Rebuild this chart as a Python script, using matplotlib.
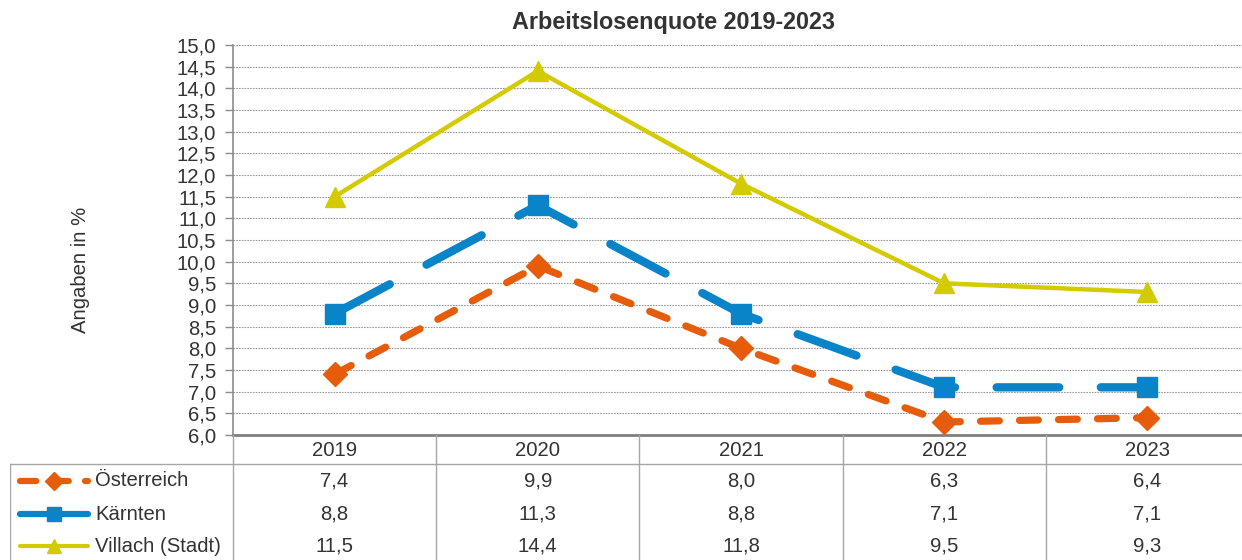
import numpy as np
import matplotlib.pyplot as plt
from matplotlib.lines import Line2D

plt.rcParams['font.family'] = ['Liberation Sans', 'DejaVu Sans']

years = ['2019', '2020', '2021', '2022', '2023']
oesterreich = [7.4, 9.9, 8.0, 6.3, 6.4]
kaernten = [8.8, 11.3, 8.8, 7.1, 7.1]
villach = [11.5, 14.4, 11.8, 9.5, 9.3]
series_names = ['Österreich', 'Kärnten', 'Villach (Stadt)']
y_ticks = np.arange(6.0, 15.01, 0.5)

c_orange = '#E65C0A'
c_blue = '#0A84C8'
c_yellow = '#D4CA00'
c_grid = '#8C8C8C'
c_text = '#333333'
fs = 14.6

W, H = 1242, 560
fig = plt.figure(figsize=(W / 100, H / 100), dpi=100)

# main plot area (pixel coordinates of reference)
px_l, px_r, px_t, px_b = 233, 1249, 45, 435
ax = fig.add_axes([px_l / W, 1 - px_b / H, (px_r - px_l) / W, (px_b - px_t) / H])
x = np.arange(len(years))
ax.set_xlim(-0.5, len(years) - 0.5)
ax.set_ylim(6.0, 15.0)
ax.set_yticks(y_ticks)
ax.set_yticklabels([f'{v:.1f}'.replace('.', ',') for v in y_ticks], fontsize=fs, color=c_text)
ax.set_xticks([])
for v in y_ticks[1:]:
    ax.axhline(v, color='#9A9A9A', lw=0.8, ls=(0, (1.5, 1.0)), zorder=1)
for s in ['top', 'right']:
    ax.spines[s].set_visible(False)
ax.spines['left'].set_color(c_grid)
ax.spines['left'].set_linewidth(1.2)
ax.spines['bottom'].set_color('#7F7F7F')
ax.spines['bottom'].set_linewidth(2.0)
ax.tick_params(axis='y', length=6, width=1, color=c_grid, pad=6)

ax.plot(x, villach, color=c_yellow, lw=3.2, marker='^', ms=14, zorder=3)
ax.plot(x, kaernten, color=c_blue, lw=6, ls=(0, (7.5, 5)), dash_capstyle='round',
        marker='s', ms=14, zorder=4)
ax.plot(x, oesterreich, color=c_orange, lw=5.2, ls=(0, (2.6, 2.8)), dash_capstyle='round',
        marker='D', ms=12.5, zorder=5)

fig.text(673 / W, 1 - 22 / H, 'Arbeitslosenquote 2019-2023', ha='center', va='center',
         fontsize=16.8, fontweight='bold', color=c_text)
fig.text(80 / W, 1 - 270 / H, 'Angaben in %', rotation=90, ha='center', va='center',
         fontsize=fs, color=c_text)

# data table below the plot
tbl_l = 10
unit = (px_r - px_l) / len(years)
x_left = -0.5 - (px_l - tbl_l) / unit
axt = fig.add_axes([tbl_l / W, 0, (px_r - tbl_l) / W, (H - px_b) / H])
axt.set_xlim(x_left, len(years) - 0.5)
axt.set_ylim(H, px_b)
axt.axis('off')

line_kw = dict(color='#A6A6A6', lw=1.0)
axt.plot([x_left, len(years) - 0.5], [464, 464], **line_kw)
axt.plot([x_left, x_left], [464, H], **line_kw)
for b in np.arange(-0.5, len(years) - 0.4, 1.0):
    axt.plot([b, b], [px_b - 8, H], **line_kw)

for i, yr in enumerate(years):
    axt.text(i, 450, yr, ha='center', va='center', fontsize=fs, color=c_text)

rows = [oesterreich, kaernten, villach]
row_y = [481, 514, 546]
for vals, ry in zip(rows, row_y):
    for i, v in enumerate(vals):
        axt.text(i, ry, f'{v:.1f}'.replace('.', ','), ha='center', va='center',
                 fontsize=fs, color=c_text)

# legend keys in the table
key_x0 = x_left + 10 / unit
key_x1 = x_left + 78 / unit
key_mid = (key_x0 + key_x1) / 2
keys = [
    dict(color=c_orange, lw=4.5, ls=(0, (2.6, 2.6)), dash_capstyle='round', marker='D', ms=9),
    dict(color=c_blue, lw=4.5, ls='-', solid_capstyle='round', marker='s', ms=10),
    dict(color=c_yellow, lw=3.0, ls='-', solid_capstyle='round', marker='^', ms=10),
]
for name, k, ry in zip(series_names, keys, row_y):
    mk = k.pop('marker')
    ms = k.pop('ms')
    axt.add_line(Line2D([key_x0, key_x1], [ry, ry], **k))
    axt.plot([key_mid], [ry], marker=mk, ms=ms, color=k['color'], ls='none')
    axt.text(x_left + 85 / unit, ry, name, ha='left', va='center', fontsize=fs, color=c_text)

fig.savefig('out.png', dpi=100)
